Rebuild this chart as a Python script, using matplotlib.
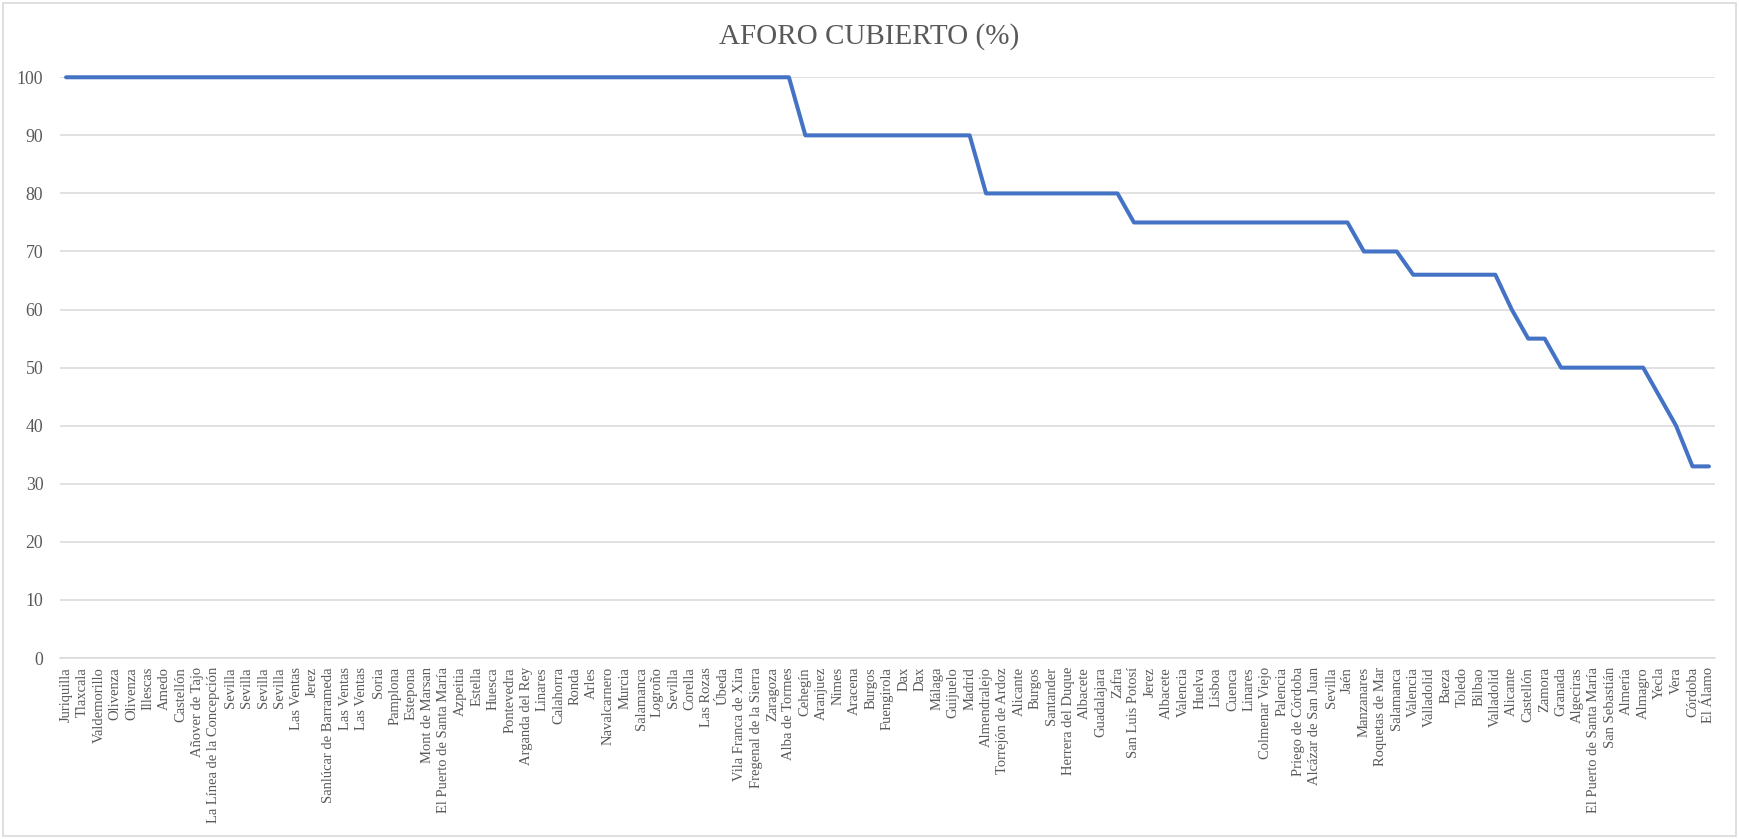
import matplotlib
matplotlib.use("Agg")
import matplotlib.pyplot as plt
from matplotlib.patches import Rectangle

# plazas y aforo cubierto (%)
plazas = [
    "Juriquilla", "Tlaxcala", "Valdemorillo", "Olivenza", "Olivenza", "Illescas",
    "Amedo", "Castellón", "Añover de Tajo", "La Línea de la Concepción",
    "Sevilla", "Sevilla", "Sevilla", "Sevilla", "Las Ventas", "Jerez",
    "Sanlúcar de Barrameda", "Las Ventas", "Las Ventas", "Soria", "Pamplona",
    "Estepona", "Mont de Marsan", "El Puerto de Santa María", "Azpeitia",
    "Estella", "Huesca", "Pontevedra", "Arganda del Rey", "Linares",
    "Calahorra", "Ronda", "Arles", "Navalcarnero", "Murcia", "Salamanca",
    "Logroño", "Sevilla", "Corella", "Las Rozas", "Úbeda",
    "Vila Franca de Xira", "Fregenal de la Sierra", "Zaragoza",
    "Alba de Tormes", "Cehegín", "Aranjuez", "Nimes", "Aracena", "Burgos",
    "Fuengirola", "Dax", "Dax", "Málaga", "Guijuelo", "Madrid",
    "Almendralejo", "Torrejón de Ardoz", "Alicante", "Burgos", "Santander",
    "Herrera del Duque", "Albacete", "Guadalajara", "Zafra",
    "San Luis Potosí", "Jerez", "Albacete", "Valencia", "Huelva", "Lisboa",
    "Cuenca", "Linares", "Colmenar Viejo", "Palencia", "Priego de Córdoba",
    "Alcázar de San Juan", "Sevilla", "Jaén", "Manzanares",
    "Roquetas de Mar", "Salamanca", "Valencia", "Valladolid", "Baeza",
    "Toledo", "Bilbao", "Valladolid", "Alicante", "Castellón", "Zamora",
    "Granada", "Algeciras", "El Puerto de Santa María", "San Sebastián",
    "Almería", "Almagro", "Yecla", "Vera", "Córdoba", "El Álamo",
]

aforo = (
    [100] * 45
    + [90] * 11
    + [80] * 9
    + [75] * 14
    + [70] * 3
    + [66] * 6
    + [60, 55, 55]
    + [50] * 6
    + [45, 40, 33, 33]
)

yticks = list(range(0, 101, 10))

plt.rcParams["font.family"] = ["Liberation Serif", "DejaVu Serif"]

fig = plt.figure(figsize=(17.39, 8.39), dpi=100)
ax = fig.add_axes([0.0345, 0.2157, 0.9517, 0.6922])

x = list(range(len(plazas)))
ax.plot(x, aforo, color="#4472C4", linewidth=2.9, solid_joinstyle="round",
        solid_capstyle="round", zorder=3, clip_on=False)

ax.set_xlim(-0.37, len(plazas) - 1 + 0.37)
ax.set_ylim(0, 100)
ax.set_yticks(yticks)
ax.set_yticklabels([str(v) for v in yticks], fontsize=12.8, color="#595959")
ax.set_xticks(x)
ax.set_xticklabels(plazas, rotation=90, fontsize=10.5, color="#595959")
ax.tick_params(axis="y", length=0, pad=12)
ax.tick_params(axis="x", length=0, pad=6.5)

ax.grid(axis="y", color="#D9D9D9", linewidth=1.1)
ax.set_axisbelow(True)
for s in ["top", "right", "left"]:
    ax.spines[s].set_visible(False)
ax.spines["bottom"].set_color("#D9D9D9")
ax.spines["bottom"].set_linewidth(1.1)

fig.suptitle("AFORO CUBIERTO (%)", y=0.957, va="center", fontsize=21, color="#595959")

# marco del gráfico
fig.patches.append(Rectangle((0.002, 0.003), 0.996, 0.994, transform=fig.transFigure,
                             fill=False, edgecolor="#D9D9D9", linewidth=1.2))

fig.savefig("out.png", dpi=100)
